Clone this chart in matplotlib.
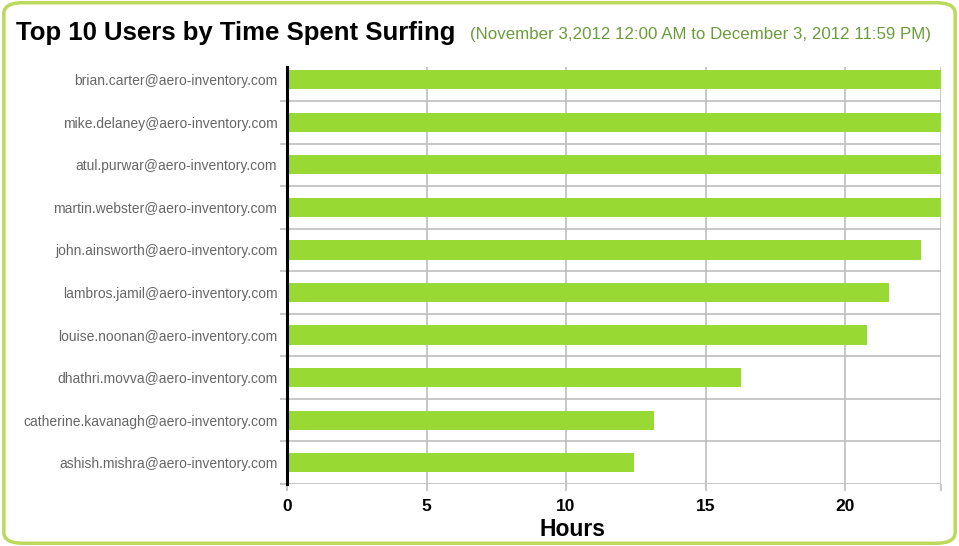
import numpy as np
import matplotlib.pyplot as plt
from matplotlib.patches import FancyBboxPatch

plt.rcParams['font.family'] = ['Liberation Sans', 'DejaVu Sans']

users = ["brian.carter@aero-inventory.com",
         "mike.delaney@aero-inventory.com",
         "atul.purwar@aero-inventory.com",
         "martin.webster@aero-inventory.com",
         "john.ainsworth@aero-inventory.com",
         "lambros.jamil@aero-inventory.com",
         "louise.noonan@aero-inventory.com",
         "dhathri.movva@aero-inventory.com",
         "catherine.kavanagh@aero-inventory.com",
         "ashish.mishra@aero-inventory.com"]
hours = [24.4, 24.2, 24.0, 23.8, 22.72, 21.58, 20.79, 16.27, 13.15, 12.44]
xticks = [0, 5, 10, 15, 20]

bar_green = "#99d933"
grid_gray = "#bdbdbd"

fig = plt.figure(figsize=(9.59, 5.46), dpi=100)
fig.patch.set_facecolor("white")

# rounded green frame
frame = FancyBboxPatch((0.004, 0.005), 0.992, 0.99,
                       boxstyle="round,pad=0,rounding_size=0.02",
                       transform=fig.transFigure, facecolor="none",
                       edgecolor="#bcd95c", linewidth=2.5, zorder=0)
fig.patches.append(frame)

ax = fig.add_axes([0.2993, 0.1136, 0.6819, 0.7637])
ax.set_facecolor("none")

y = np.arange(len(users))
ax.barh(y, hours, height=0.45, color=bar_green, zorder=3)

ax.set_xlim(0, 23.44)
ax.set_ylim(9.5, -0.3)

ax.set_yticks(y)
ax.set_yticklabels(users, fontsize=10, color="#666666")
ax.set_yticks(np.arange(len(users)) + 0.5, minor=True)
ax.tick_params(axis="y", which="major", length=0, pad=7)
ax.tick_params(axis="y", which="minor", length=5, color=grid_gray, width=1.2)

ax.set_xticks(xticks + [23.44])
ax.set_xticklabels([str(t) for t in xticks] + [""], fontsize=12.5, fontweight="bold")
ax.tick_params(axis="x", length=5, color=grid_gray, width=1.2, pad=6)

ax.grid(axis="x", color=grid_gray, linewidth=1.2, zorder=1)
ax.grid(axis="y", which="minor", color=grid_gray, linewidth=1.2, zorder=1)
ax.grid(axis="y", which="major", visible=False)

for s in ["top", "right", "bottom"]:
    ax.spines[s].set_visible(False)
ax.spines["left"].set_color("black")
ax.spines["left"].set_linewidth(2.2)
ax.spines["left"].set_zorder(4)

ax.set_xlabel("Hours", fontsize=16.5, fontweight="bold", va="center")
ax.xaxis.set_label_coords(0.437, -0.11)

fig.text(0.017, 0.94, "Top 10 Users by Time Spent Surfing", fontsize=18.5,
         fontweight="bold", va="center", ha="left")
fig.text(0.49, 0.937, "(November 3,2012 12:00 AM to December 3, 2012 11:59 PM)",
         fontsize=12.2, color="#6b9c3c", va="center", ha="left")

fig.savefig("out.png", dpi=100)
